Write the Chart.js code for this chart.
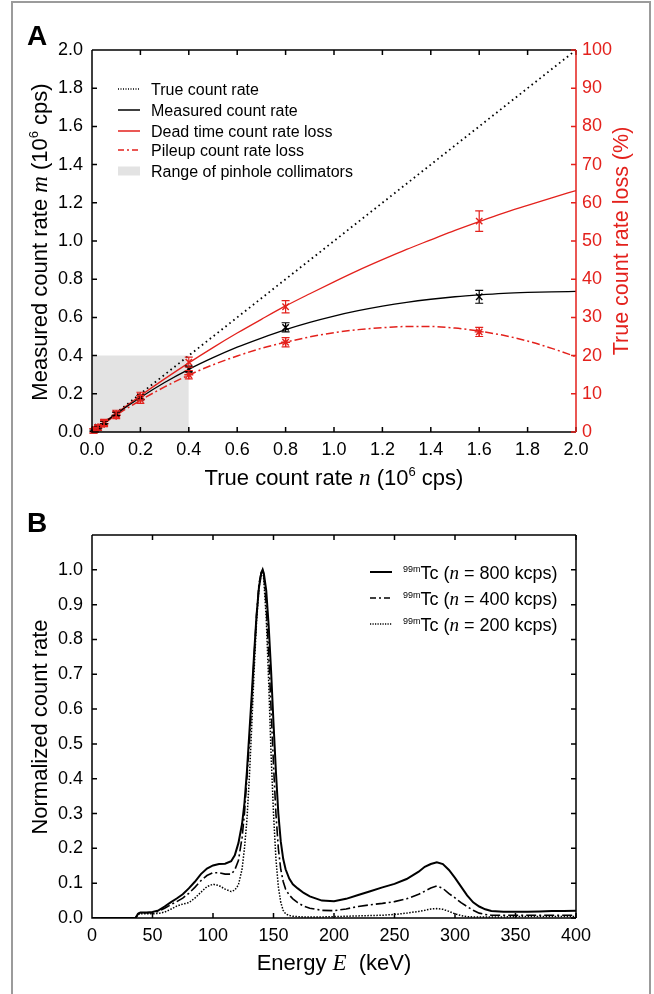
<!DOCTYPE html>
<html>
<head>
<meta charset="utf-8">
<script src="https://cdn.jsdelivr.net/npm/chart.js@4.4.1/dist/chart.umd.min.js"></script>
<style>
  html, body { margin: 0; padding: 0; background: #fff; }
  body { width: 654px; height: 994px; position: relative; overflow: hidden; }
  #frame { position: absolute; left: 11px; top: 1px; width: 636px; height: 1010px; border: 2px solid #9b9b9b; }
  canvas { position: absolute; left: 0; }
  #chartA { top: 0; }
  #chartB { top: 500px; }
</style>
</head>
<body>
<div id="frame"></div>
<canvas id="chartA" width="654" height="500"></canvas>
<canvas id="chartB" width="654" height="494"></canvas>
<script>
// ---- Panel A data (true count rate n, 10^6 cps) ----
const curveN = [0.0, 0.1, 0.2, 0.3, 0.4, 0.5, 0.6, 0.7, 0.8, 0.9, 1.0, 1.1, 1.2, 1.3, 1.4, 1.5, 1.6, 1.7, 1.8, 1.9, 2.0];
const measuredCurve = [0, 0.095, 0.181, 0.259, 0.328, 0.389, 0.444, 0.492, 0.536, 0.574, 0.607, 0.635, 0.659, 0.679, 0.695, 0.708, 0.718, 0.726, 0.731, 0.734, 0.736];
const deadLossCurve = [0, 4.9, 9.5, 13.9, 18.1, 22.1, 25.9, 29.5, 33.0, 36.2, 39.3, 42.3, 45.1, 47.8, 50.3, 52.8, 55.1, 57.3, 59.3, 61.3, 63.2];
const pileupLossCurve = [0, 4.4, 8.3, 11.8, 14.9, 17.6, 19.9, 21.9, 23.5, 24.9, 26.0, 26.8, 27.3, 27.6, 27.6, 27.2, 26.4, 25.3, 23.8, 21.9, 19.7];

const pointN = [0.00625, 0.0125, 0.025, 0.05, 0.1, 0.2, 0.4, 0.8, 1.6];
const measuredPts = [0.0062, 0.0124, 0.0247, 0.049, 0.095, 0.181, 0.33, 0.548, 0.708];
const measuredErr = [0.004, 0.004, 0.005, 0.006, 0.008, 0.01, 0.015, 0.024, 0.034];
const deadPts = [0.3, 0.6, 1.2, 2.5, 4.8, 9.4, 18.3, 32.8, 55.2];
const deadErr = [0.6, 0.6, 0.7, 0.8, 0.9, 1.0, 1.3, 1.6, 2.7];
const pileupPts = [0.3, 0.6, 1.1, 2.2, 4.4, 8.5, 15.0, 23.5, 26.2];
const pileupErr = [0.6, 0.6, 0.7, 0.8, 0.9, 1.0, 1.1, 1.2, 1.2];

const trueLineN = [0, 2];
const trueLineM = [0, 2];
const pinholeN = [0, 0.4];
const pinholeM = [0.4, 0.4];

const countTicks = [0, 0.2, 0.4, 0.6, 0.8, 1.0, 1.2, 1.4, 1.6, 1.8, 2.0];
const lossTicks = [0, 10, 20, 30, 40, 50, 60, 70, 80, 90, 100];

// ---- Panel B data (energy spectra, keV) ----
const energy = [0, 36, 38, 40, 45, 50, 55, 60, 65, 70,
  75, 80, 85, 90, 95, 100, 105, 110, 115, 118,
  121, 124, 126, 128, 130, 132, 134, 136, 138, 140,
  141, 142, 144, 146, 148, 150, 152, 154, 156, 158,
  160, 163, 166, 170, 175, 180, 190, 200, 210, 220,
  230, 240, 250, 260, 270, 275, 280, 285, 290, 295,
  300, 305, 310, 315, 320, 325, 330, 340, 350, 360,
  370, 380, 390, 400];
const spec800 = [0, 0, 0.012, 0.016, 0.016, 0.017, 0.022, 0.033, 0.045, 0.056,
  0.068, 0.085, 0.104, 0.126, 0.142, 0.151, 0.155, 0.156, 0.163, 0.18,
  0.215, 0.27, 0.33, 0.42, 0.53, 0.64, 0.76, 0.87, 0.95, 0.993,
  1.0, 0.99, 0.94, 0.84, 0.71, 0.56, 0.42, 0.3, 0.22, 0.17,
  0.14, 0.113, 0.097, 0.085, 0.072, 0.062, 0.05, 0.048, 0.055, 0.066,
  0.077, 0.088, 0.098, 0.112, 0.133, 0.147, 0.155, 0.16, 0.155, 0.138,
  0.115, 0.09, 0.065, 0.045, 0.033, 0.025, 0.02, 0.018, 0.018, 0.018,
  0.019, 0.02, 0.02, 0.021];
const spec400 = [0, 0, 0.012, 0.015, 0.015, 0.015, 0.019, 0.028, 0.038, 0.047,
  0.057, 0.071, 0.088, 0.107, 0.122, 0.13, 0.13, 0.126, 0.126, 0.138,
  0.165, 0.23, 0.3, 0.4, 0.5, 0.62, 0.75, 0.87, 0.96, 0.995,
  1.0, 0.985, 0.9, 0.76, 0.6, 0.44, 0.3, 0.2, 0.14, 0.105,
  0.083, 0.066, 0.055, 0.044, 0.034, 0.028, 0.022, 0.021, 0.026, 0.033,
  0.038, 0.042, 0.047, 0.055, 0.068, 0.077, 0.086, 0.092, 0.085, 0.07,
  0.058, 0.044, 0.033, 0.022, 0.014, 0.01, 0.008, 0.008, 0.008, 0.008,
  0.008, 0.008, 0.008, 0.008];
const spec200 = [0, 0, 0.01, 0.012, 0.012, 0.012, 0.013, 0.017, 0.025, 0.034,
  0.04, 0.044, 0.057, 0.074, 0.09, 0.097, 0.093, 0.083, 0.076, 0.08,
  0.095, 0.14, 0.2, 0.28, 0.4, 0.55, 0.71, 0.85, 0.95, 0.99,
  1.0, 0.97, 0.86, 0.68, 0.47, 0.3, 0.17, 0.09, 0.045, 0.022,
  0.012, 0.007, 0.005, 0.004, 0.003, 0.003, 0.003, 0.004, 0.005, 0.006,
  0.007, 0.008, 0.01, 0.014, 0.019, 0.022, 0.026, 0.027, 0.025, 0.019,
  0.012, 0.007, 0.004, 0.003, 0.003, 0.003, 0.003, 0.003, 0.004, 0.004,
  0.004, 0.004, 0.004, 0.004];

const energyTicks = [0, 50, 100, 150, 200, 250, 300, 350, 400];
const normTicks = [0, 0.1, 0.2, 0.3, 0.4, 0.5, 0.6, 0.7, 0.8, 0.9, 1.0];

// ---- styling ----
const RED = '#e3211c';
const SANS = '"Liberation Sans", Arial, sans-serif';
const SERIF = '"Liberation Serif", "Times New Roman", serif';
const F = (size, style) => (style ? style + ' ' : '') + size + 'px ' + SANS;
const FI = size => 'italic ' + size + 'px ' + SERIF;

const pts = (xs, ys) => xs.map((x, i) => ({ x: x, y: ys[i] }));
const fixedTicks = arr => scale => { scale.ticks = arr.map(v => ({ value: v })); };

// draws a run of text pieces (sans / italic serif / superscripts)
function richText(ctx, parts, x, y, opts) {
  opts = opts || {};
  ctx.save();
  ctx.translate(x, y);
  ctx.rotate(opts.rot || 0);
  ctx.fillStyle = opts.color || '#000';
  ctx.textAlign = 'left';
  ctx.textBaseline = 'alphabetic';
  let total = 0;
  parts.forEach(p => { ctx.font = p.font; p.w = ctx.measureText(p.text).width; total += p.w; });
  let cx = opts.align === 'left' ? 0 : -total / 2;
  parts.forEach(p => { ctx.font = p.font; ctx.fillText(p.text, cx, p.dy || 0); cx += p.w; });
  ctx.restore();
}

function sampleLine(ctx, x1, x2, y, color, width, dash) {
  ctx.save();
  ctx.strokeStyle = color;
  ctx.lineWidth = width;
  ctx.setLineDash(dash || []);
  ctx.beginPath();
  ctx.moveTo(x1, y);
  ctx.lineTo(x2, y);
  ctx.stroke();
  ctx.restore();
}

// inward tick marks and plot frame
function drawFrame(chart, rightScale, rightColor) {
  const ctx = chart.ctx, a = chart.chartArea, s = chart.scales;
  const len = 5;
  ctx.save();
  ctx.lineWidth = 1.5;
  ctx.strokeStyle = '#000';
  ctx.beginPath();
  s.x.ticks.forEach(t => {
    const px = s.x.getPixelForValue(t.value);
    ctx.moveTo(px, a.bottom); ctx.lineTo(px, a.bottom - len);
    ctx.moveTo(px, a.top); ctx.lineTo(px, a.top + len);
  });
  s.y.ticks.forEach(t => {
    const py = s.y.getPixelForValue(t.value);
    ctx.moveTo(a.left, py); ctx.lineTo(a.left + len, py);
  });
  ctx.moveTo(a.left, a.top); ctx.lineTo(a.left, a.bottom); ctx.lineTo(a.right, a.bottom);
  ctx.moveTo(a.left, a.top); ctx.lineTo(a.right, a.top);
  ctx.stroke();

  ctx.strokeStyle = rightColor;
  ctx.beginPath();
  rightScale.ticks.forEach(t => {
    const py = rightScale.getPixelForValue(t.value);
    ctx.moveTo(a.right, py); ctx.lineTo(a.right - len, py);
  });
  ctx.moveTo(a.right, a.top); ctx.lineTo(a.right, a.bottom);
  ctx.stroke();
  ctx.restore();
}

function errorBars(chart, xs, ys, errs, scale, color) {
  const ctx = chart.ctx, sx = chart.scales.x;
  ctx.save();
  ctx.strokeStyle = color;
  ctx.lineWidth = 1.2;
  ctx.beginPath();
  xs.forEach((x, i) => {
    const px = sx.getPixelForValue(x);
    const top = scale.getPixelForValue(ys[i] + errs[i]);
    const bot = scale.getPixelForValue(ys[i] - errs[i]);
    ctx.moveTo(px, top); ctx.lineTo(px, bot);
    ctx.moveTo(px - 4, top); ctx.lineTo(px + 4, top);
    ctx.moveTo(px - 4, bot); ctx.lineTo(px + 4, bot);
  });
  ctx.stroke();
  ctx.restore();
}

const tickFont = { family: SANS, size: 18 };

// ================= Panel A =================
const panelA = {
  id: 'panelA',
  afterDatasetsDraw(chart) {
    const s = chart.scales;
    errorBars(chart, pointN, measuredPts, measuredErr, s.y, '#000');
    errorBars(chart, pointN, deadPts, deadErr, s.y2, RED);
    errorBars(chart, pointN, pileupPts, pileupErr, s.y2, RED);
    drawFrame(chart, s.y2, RED);
  },
  afterDraw(chart) {
    const ctx = chart.ctx;
    const sans = F(22), sup = F(13);
    richText(ctx, [
      { text: 'True count rate ', font: sans },
      { text: 'n', font: FI(23) },
      { text: ' (10', font: sans },
      { text: '6', font: sup, dy: -9 },
      { text: ' cps)', font: sans }
    ], 334, 485);
    richText(ctx, [
      { text: 'Measured count rate ', font: sans },
      { text: 'm', font: FI(23) },
      { text: ' (10', font: sans },
      { text: '6', font: sup, dy: -9 },
      { text: ' cps)', font: sans }
    ], 46.5, 242, { rot: -Math.PI / 2 });
    richText(ctx, [{ text: 'True count rate loss (%)', font: F(21.5) }], 628, 241, { rot: -Math.PI / 2, color: RED });

    // panel letter
    richText(ctx, [{ text: 'A', font: F(28, 'bold') }], 27, 45, { align: 'left' });

    // legend
    const lx1 = 118, lx2 = 140, tx = 151;
    const rows = [89, 110, 131, 150, 171];
    const labels = ['True count rate', 'Measured count rate', 'Dead time count rate loss', 'Pileup count rate loss', 'Range of pinhole collimators'];
    sampleLine(ctx, lx1, lx2, rows[0], '#000', 1.4, [1, 1.5]);
    sampleLine(ctx, lx1, lx2, rows[1], '#000', 1.5);
    sampleLine(ctx, lx1, lx2, rows[2], RED, 1.5);
    sampleLine(ctx, lx1, lx2, rows[3], RED, 1.5, [6, 3, 2, 3]);
    ctx.fillStyle = '#e3e3e3';
    ctx.fillRect(lx1, rows[4] - 4.5, lx2 - lx1, 9);
    labels.forEach((t, i) => richText(ctx, [{ text: t, font: F(16) }], tx, rows[i] + 5.5, { align: 'left' }));
  }
};

new Chart(document.getElementById('chartA'), {
  type: 'line',
  data: {
    datasets: [
      { data: pts(pinholeN, pinholeM), yAxisID: 'y', fill: 'origin', backgroundColor: '#e3e3e3', borderWidth: 0, pointRadius: 0, order: 10 },
      { data: pts(trueLineN, trueLineM), yAxisID: 'y', borderColor: '#000', borderWidth: 1.8, borderDash: [1.6, 3.4], pointRadius: 0, order: 3 },
      { data: pts(curveN, measuredCurve), yAxisID: 'y', borderColor: '#000', borderWidth: 1.3, pointRadius: 0, cubicInterpolationMode: 'monotone', order: 2 },
      { data: pts(curveN, deadLossCurve), yAxisID: 'y2', borderColor: RED, borderWidth: 1.3, pointRadius: 0, cubicInterpolationMode: 'monotone', order: 2 },
      { data: pts(curveN, pileupLossCurve), yAxisID: 'y2', borderColor: RED, borderWidth: 1.5, borderDash: [8, 3, 2, 3], pointRadius: 0, cubicInterpolationMode: 'monotone', order: 2 },
      { data: pts(pointN, measuredPts), yAxisID: 'y', showLine: false, pointStyle: 'crossRot', pointRadius: 4.5, borderColor: '#000', borderWidth: 1.4, order: 0 },
      { data: pts(pointN, deadPts), yAxisID: 'y2', showLine: false, pointStyle: 'crossRot', pointRadius: 4.5, borderColor: RED, borderWidth: 1.4, order: 0 },
      { data: pts(pointN, pileupPts), yAxisID: 'y2', showLine: false, pointStyle: 'star', pointRadius: 4.5, borderColor: RED, borderWidth: 1.4, order: 0 }
    ]
  },
  options: {
    responsive: false,
    animation: false,
    devicePixelRatio: 1,
    layout: { padding: { top: 50, left: 0, right: 0, bottom: 0 } },
    plugins: { legend: { display: false }, tooltip: { enabled: false } },
    scales: {
      x: {
        type: 'linear', min: 0, max: 2,
        grid: { display: false, drawTicks: false }, border: { display: false },
        ticks: { color: '#000', font: tickFont, padding: 7, autoSkip: false, maxRotation: 0, callback: v => v.toFixed(1) },
        afterBuildTicks: fixedTicks(countTicks),
        afterFit: s => { s.height = 68; }
      },
      y: {
        type: 'linear', position: 'left', min: 0, max: 2,
        grid: { display: false, drawTicks: false }, border: { display: false },
        ticks: { color: '#000', font: tickFont, padding: 9, autoSkip: false, callback: v => v.toFixed(1) },
        afterBuildTicks: fixedTicks(countTicks),
        afterFit: s => { s.width = 92; }
      },
      y2: {
        type: 'linear', position: 'right', min: 0, max: 100,
        grid: { display: false, drawTicks: false }, border: { display: false },
        ticks: { color: RED, font: tickFont, padding: 6, autoSkip: false, callback: v => String(v) },
        afterBuildTicks: fixedTicks(lossTicks),
        afterFit: s => { s.width = 78; }
      }
    }
  },
  plugins: [panelA]
});

// ================= Panel B =================
const panelB = {
  id: 'panelB',
  afterDatasetsDraw(chart) {
    drawFrame(chart, chart.scales.y, '#000');
  },
  afterDraw(chart) {
    const ctx = chart.ctx;
    const sans = F(22);
    richText(ctx, [
      { text: 'Energy ', font: sans },
      { text: 'E', font: FI(23) },
      { text: '  (keV)', font: sans }
    ], 334, 470);
    richText(ctx, [{ text: 'Normalized count rate', font: sans }], 46.5, 227, { rot: -Math.PI / 2 });
    richText(ctx, [{ text: 'B', font: F(28, 'bold') }], 27, 32, { align: 'left' });

    const lx1 = 370, lx2 = 392, tx = 403;
    const rows = [72, 98, 124];
    const rates = ['800', '400', '200'];
    sampleLine(ctx, lx1, lx2, rows[0], '#000', 2);
    sampleLine(ctx, lx1, lx2, rows[1], '#000', 1.5, [6, 3, 2, 3]);
    sampleLine(ctx, lx1, lx2, rows[2], '#000', 1.4, [1.2, 1.3]);
    rates.forEach((r, i) => richText(ctx, [
      { text: '99m', font: F(9), dy: -7 },
      { text: 'Tc (', font: F(18) },
      { text: 'n', font: FI(19) },
      { text: ' = ' + r + ' kcps)', font: F(18) }
    ], tx, rows[i] + 6.5, { align: 'left' }));
  }
};

new Chart(document.getElementById('chartB'), {
  type: 'line',
  data: {
    datasets: [
      { data: pts(energy, spec800), borderColor: '#000', borderWidth: 2, pointRadius: 0 },
      { data: pts(energy, spec400), borderColor: '#000', borderWidth: 1.6, borderDash: [10, 3, 2, 3], pointRadius: 0 },
      { data: pts(energy, spec200), borderColor: '#000', borderWidth: 1.5, borderDash: [1.5, 1.5], pointRadius: 0 }
    ]
  },
  options: {
    responsive: false,
    animation: false,
    devicePixelRatio: 1,
    layout: { padding: { top: 35, left: 0, right: 78, bottom: 0 } },
    plugins: { legend: { display: false }, tooltip: { enabled: false } },
    scales: {
      x: {
        type: 'linear', min: 0, max: 400,
        grid: { display: false, drawTicks: false }, border: { display: false },
        ticks: { color: '#000', font: tickFont, padding: 7, autoSkip: false, maxRotation: 0, callback: v => String(v) },
        afterBuildTicks: fixedTicks(energyTicks),
        afterFit: s => { s.height = 76; }
      },
      y: {
        type: 'linear', min: 0, max: 1.1,
        grid: { display: false, drawTicks: false }, border: { display: false },
        ticks: { color: '#000', font: tickFont, padding: 9, autoSkip: false, callback: v => v.toFixed(1) },
        afterBuildTicks: fixedTicks(normTicks),
        afterFit: s => { s.width = 92; }
      }
    }
  },
  plugins: [panelB]
});
</script>
</body>
</html>
